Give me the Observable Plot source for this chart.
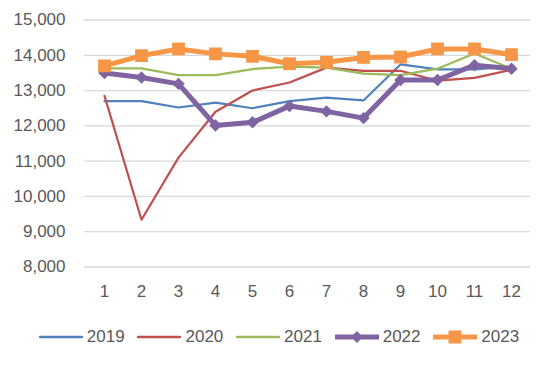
<!DOCTYPE html>
<html>
<head>
<meta charset="utf-8">
<script src="https://cdn.jsdelivr.net/npm/d3@7"></script>
<script src="https://cdn.jsdelivr.net/npm/@observablehq/plot@0.6"></script>
<style>
  html, body { margin: 0; padding: 0; background: #fff; }
  #wrap { position: relative; width: 550px; height: 365px; font-family: "Liberation Sans", Arial, sans-serif; color: #595959; }
  #chart { position: absolute; left: 0; top: 0; }
  #legend { position: absolute; left: 0; top: 326px; width: 550px; height: 22px; display: flex; justify-content: center; align-items: center; font-size: 17px; padding-left: 8px; box-sizing: border-box; }
  .item { display: flex; align-items: center; margin: 0 6.4px; }
  .item svg { margin-right: 4px; }
</style>
</head>
<body>
<div id="wrap">
  <div id="chart"></div>
  <div id="legend"></div>
</div>
<script>
const months = [1, 2, 3, 4, 5, 6, 7, 8, 9, 10, 11, 12];
const years = ["2019", "2020", "2021", "2022", "2023"];
const s2019 = [12700, 12700, 12520, 12660, 12500, 12700, 12800, 12720, 13740, 13600, 13600, 13680];
const s2020 = [12850, 9340, 11100, 12400, 13000, 13230, 13650, 13560, 13560, 13280, 13360, 13590];
const s2021 = [13630, 13630, 13440, 13440, 13610, 13680, 13650, 13480, 13440, 13620, 14050, 13620];
const s2022 = [13500, 13370, 13190, 12010, 12100, 12560, 12410, 12220, 13300, 13300, 13720, 13620];
const s2023 = [13700, 13990, 14180, 14040, 13970, 13760, 13800, 13940, 13950, 14180, 14180, 14020];
const yTicks = [8000, 9000, 10000, 11000, 12000, 13000, 14000, 15000];
const colors = ["#4F81BD", "#C0504D", "#9BBB59", "#8064A2", "#F79646"];

const seriesValues = [s2019, s2020, s2021, s2022, s2023];
const rows = (i) => months.map((m, j) => ({month: m, value: seriesValues[i][j], year: years[i]}));

const thin = [0, 1, 2].map(i => Plot.line(rows(i), {x: "month", y: "value", stroke: colors[i], strokeWidth: 2.2, strokeLinejoin: "round"}));

const chart = Plot.plot({
  width: 550,
  height: 310,
  marginTop: 19.5,
  marginBottom: 43.5,
  marginLeft: 84,
  marginRight: 20,
  style: {fontFamily: "'Liberation Sans', Arial, sans-serif", fontSize: "17px", color: "#595959", background: "#fff"},
  x: {type: "point", domain: months, padding: 0.5, label: null, tickSize: 0, tickPadding: 18},
  y: {domain: [8000, 15000], ticks: yTicks, tickFormat: d3.format(","), label: null, tickSize: 0, tickPadding: 19},
  marks: [
    Plot.ruleY(yTicks, {stroke: "#d9d9d9", strokeWidth: 1.3}),
    ...thin,
    Plot.line(rows(3), {x: "month", y: "value", stroke: colors[3], strokeWidth: 5, strokeLinejoin: "round"}),
    Plot.dot(rows(3), {x: "month", y: "value", symbol: "diamond2", r: 5.6, fill: colors[3], stroke: "none"}),
    Plot.line(rows(4), {x: "month", y: "value", stroke: colors[4], strokeWidth: 5, strokeLinejoin: "round"}),
    Plot.dot(rows(4), {x: "month", y: "value", symbol: "square", r: 7.2, fill: colors[4], stroke: "none"})
  ]
});
document.getElementById("chart").appendChild(chart);

// legend
const legend = document.getElementById("legend");
years.forEach((y, i) => {
  const item = document.createElement("div");
  item.className = "item";
  const thick = i >= 3;
  let marker = "";
  if (i === 3) marker = `<path d="M22,1 L28,7 L22,13 L16,7 Z" fill="${colors[i]}"/>`;
  if (i === 4) marker = `<rect x="15.5" y="0.5" width="13" height="13" fill="${colors[i]}"/>`;
  item.innerHTML = `<svg width="44" height="14"><line x1="1" y1="7" x2="43" y2="7" stroke="${colors[i]}" stroke-width="${thick ? 5 : 2.5}" stroke-linecap="round"/>${marker}</svg><span>${y}</span>`;
  legend.appendChild(item);
});
</script>
</body>
</html>
